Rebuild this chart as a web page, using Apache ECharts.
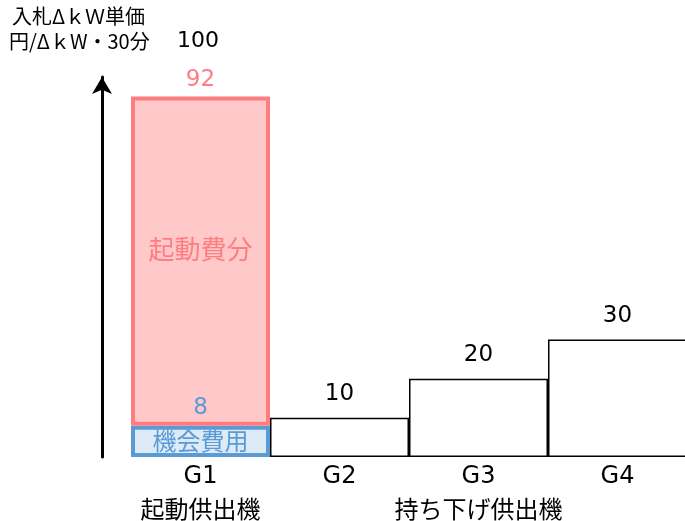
<!DOCTYPE html>
<html><head><meta charset="utf-8">
<script src="https://cdn.jsdelivr.net/npm/echarts@6/dist/echarts.min.js"></script>
<style>html,body{margin:0;padding:0;background:#fff}#c{width:685px;height:521px}</style>
</head><body><div id="c"></div>
<script>
// ---- data ----
const categories = ['G1', 'G2', 'G3', 'G4'];
const groupLabels = ['起動供出機', '', '持ち下げ供出機', ''];
const opportunityCost = [8, '-', '-', '-'];   // 機会費用
const startupCost = [84, '-', '-', '-'];      // 起動費分
const lowerBids = ['-', 10, 20, 30];          // 持ち下げ供出機
const segmentNames = ['機会費用', '起動費分'];
const axisTitle = ['入札ΔｋＷ単価', '円/ΔｋW・30分'];
const axisTopLabel = '100';

const FONT = "'DejaVu Sans', 'Noto Sans CJK JP', sans-serif";
const JFONT = "'Noto Sans CJK JP', 'Noto Sans', sans-serif";
const PINK = '#ff7c80', PINK_FILL = '#ffc9c9';
const BLUE = '#5b9bd5', BLUE_FILL = '#ddebf7';
const g1Total = opportunityCost[0] + startupCost[0];

const chart = echarts.init(document.getElementById('c'), null, {renderer: 'canvas'});
chart.setOption({
  animation: false,
  backgroundColor: '#fff',
  textStyle: {fontFamily: FONT},
  graphic: [
    {
      type: 'text', left: 12, top: 6,
      style: {text: axisTitle[0], fontSize: 20, fontFamily: JFONT, fill: '#000'}
    },
    {
      type: 'text', left: 9, top: 31,
      style: {text: axisTitle[1], fontSize: 20, fontFamily: JFONT, fill: '#000'}
    },
    {
      type: 'text', left: 177, top: 30,
      style: {text: axisTopLabel, fontSize: 22, fontFamily: FONT, fill: '#000'}
    }
  ],
  grid: {left: 131, right: -2, top: 77, bottom: 64, containLabel: false, outerBoundsMode: 'none'},
  xAxis: {
    type: 'category',
    data: categories,
    axisLine: {show: false},
    axisTick: {show: false},
    axisLabel: {
      interval: 0, margin: 2,
      color: '#000', fontSize: 24, lineHeight: 35, fontFamily: FONT,
      formatter: (v, i) => groupLabels[i] ? v + '\n' + groupLabels[i] : v
    }
  },
  yAxis: {
    type: 'value', min: 0, max: 97,
    offset: 29,
    splitLine: {show: false},
    axisTick: {show: false},
    axisLabel: {show: false},
    axisLine: {
      show: true,
      symbol: ['none', 'arrow'],
      symbolSize: [15, 17],
      lineStyle: {color: '#000', width: 3}
    }
  },
  series: [
    {
      name: '持ち下げ', type: 'bar', stack: 'g',
      data: lowerBids,
      barWidth: '100%', barCategoryGap: '0%',
      itemStyle: {color: '#fff', borderColor: '#000', borderWidth: 1.5},
      label: {show: true, position: 'top', distance: 12, color: '#000', fontSize: 23, fontFamily: FONT}
    },
    {
      name: segmentNames[0], type: 'bar', stack: 'g',
      data: opportunityCost,
      barWidth: '100%', barCategoryGap: '0%',
      itemStyle: {color: BLUE_FILL, borderColor: BLUE, borderWidth: 4},
      label: {
        show: true, position: 'insideBottom', distance: 4,
        formatter: p => '{v|' + p.value + '}\n{n|' + segmentNames[0] + '}',
        rich: {
          v: {color: BLUE, fontSize: 23, lineHeight: 40, fontFamily: FONT},
          n: {color: BLUE, fontSize: 24, lineHeight: 25, fontFamily: JFONT}
        }
      }
    },
    {
      name: segmentNames[1], type: 'bar', stack: 'g',
      data: startupCost,
      barWidth: '100%', barCategoryGap: '0%',
      itemStyle: {color: PINK_FILL, borderColor: PINK, borderWidth: 4},
      label: {
        show: true, position: 'inside', offset: [0, -12], color: PINK, fontSize: 26, fontFamily: JFONT,
        formatter: () => segmentNames[1]
      },
      markPoint: {
        symbol: 'circle', symbolSize: 1,
        itemStyle: {color: 'rgba(0,0,0,0)'},
        label: {show: true, position: 'top', distance: 5, color: PINK, fontSize: 23, fontFamily: FONT, formatter: '{c}'},
        data: [{coord: [categories[0], g1Total], value: g1Total}]
      }
    }
  ]
});
</script>
</body></html>
